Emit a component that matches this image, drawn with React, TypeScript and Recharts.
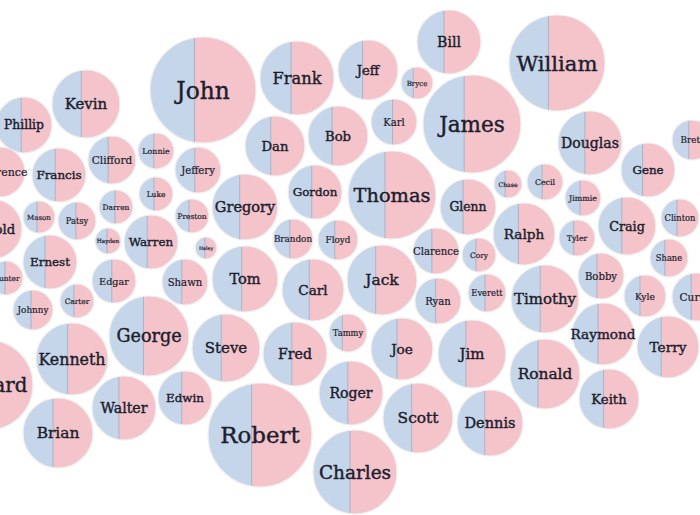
import React from 'react'
import { ScatterChart, Scatter, XAxis, YAxis, ZAxis } from 'recharts'

const names = [
  'Kevin', 'Phillip', 'Clifford', 'Lonnie', 'Francis', 'Lawrence', 'Harold', 'Mason', 'Patsy', 'Darren',
  'Luke', 'Hayden', 'Warren', 'Ernest', 'Hunter', 'Edgar', 'Carter', 'Johnny', 'George', 'Kenneth',
  'Richard', 'Brian', 'Walter', 'Edwin', 'Robert', 'Steve', 'Fred', 'Tom', 'Gregory', 'Preston',
  'Haley', 'Jeffery', 'Shawn', 'Gordon', 'Brandon', 'Floyd', 'Carl', 'Tammy', 'Roger', 'Charles',
  'Scott', 'Dennis', 'Joe', 'Jim', 'Jack', 'Thomas', 'Glenn', 'Chase', 'Clarence', 'Cory',
  'Ryan', 'Everett', 'Ralph', 'Timothy', 'Cecil', 'Jimmie', 'Tyler', 'Craig', 'Clinton', 'Shane',
  'Bobby', 'Kyle', 'Curtis', 'Raymond', 'Terry', 'Ronald', 'Keith', 'Gene', 'Brett', 'Douglas',
  'William', 'James', 'Bill', 'Jeff', 'Bryce', 'Karl', 'Bob', 'Dan', 'Frank', 'John',
]

// bubble centres (layout units) and radius
const xs = [
  86, 24, 112, 156, 59, 0, -8, 39, 77, 116,
  156, 108, 151, 50, 6, 114, 77, 33, 149, 72,
  -12, 58, 124, 185, 260, 226, 295, 245, 245, 192,
  206, 198, 185, 315, 293, 338, 313, 348, 351, 355,
  418, 490, 402, 472, 382, 392, 468, 508, 436, 479,
  438, 487, 524, 545, 545, 583, 577, 627, 680, 669,
  601, 645, 696, 603, 668, 545, 609, 648, 692, 590,
  557, 472, 449, 368, 417, 394, 338, 275, 297, 203,
]
const ys = [
  104, 125, 160, 151, 175, 172, 229, 217, 221, 207,
  194, 241, 242, 262, 278, 281, 301, 310, 336, 359,
  385, 433, 408, 398, 435, 348, 354, 279, 207, 216,
  248, 170, 282, 192, 239, 240, 290, 333, 393, 472,
  418, 423, 349, 354, 280, 195, 207, 184, 251, 255,
  301, 293, 234, 299, 182, 198, 238, 226, 218, 258,
  276, 296, 297, 334, 347, 374, 399, 170, 140, 143,
  63, 124, 42, 70, 83, 122, 136, 146, 78, 90,
]
const radii = [
  34, 28, 24, 18, 27, 25, 30, 16, 19, 17,
  17, 13, 27, 27, 17, 22, 17, 20, 40, 36,
  45, 35, 32, 27, 52, 34, 32, 33, 33, 17,
  11, 23, 23, 27, 20, 20, 31, 19, 32, 42,
  35, 33, 31, 34, 35, 44, 28, 14, 23, 17,
  23, 19, 31, 34, 18, 18, 18, 29, 19, 19,
  23, 21, 24, 31, 31, 35, 30, 27, 20, 32,
  48, 49, 32, 30, 16, 23, 30, 30, 37, 53,
]
// share of the blue (left) part
const blueShares = [
  0.43, 0.45, 0.42, 0.44, 0.43, 0.45, 0.45, 0.44, 0.47, 0.47,
  0.44, 0.46, 0.43, 0.41, 0.47, 0.45, 0.41, 0.45, 0.43, 0.44,
  0.45, 0.43, 0.42, 0.44, 0.42, 0.43, 0.45, 0.45, 0.42, 0.41,
  0.45, 0.43, 0.43, 0.44, 0.42, 0.42, 0.44, 0.35, 0.45, 0.44,
  0.41, 0.42, 0.42, 0.41, 0.41, 0.42, 0.41, 0.4, 0.41, 0.41,
  0.45, 0.45, 0.41, 0.43, 0.42, 0.42, 0.41, 0.41, 0.42, 0.39,
  0.41, 0.38, 0.4, 0.42, 0.39, 0.4, 0.41, 0.4, 0.42, 0.42,
  0.41, 0.42, 0.42, 0.41, 0.38, 0.47, 0.4, 0.43, 0.42, 0.42,
]

const data = names.map((name, i) => ({
  name,
  x: xs[i],
  y: ys[i],
  r: radii[i],
  z: radii[i] * radii[i],
  share: blueShares[i],
}))

const BLUE = '#c6d6ea'
const PINK = '#f5c4ca'
const INK = '#1b202d'

const Bubble = (props: any) => {
  const { cx, cy, width, payload } = props
  if (cx == null || cy == null) return null
  const r = width ? width / 2 : payload.r
  const sx = cx - r + 2 * r * payload.share
  const dy = Math.sqrt(Math.max(r * r - (sx - cx) * (sx - cx), 0))
  const big = sx > cx ? 1 : 0
  return (
    <g>
      <path d={`M${sx},${cy - dy} A${r},${r} 0 ${big} 0 ${sx},${cy + dy} Z`} fill={BLUE} />
      <path d={`M${sx},${cy - dy} A${r},${r} 0 ${1 - big} 1 ${sx},${cy + dy} Z`} fill={PINK} />
      <line x1={sx} y1={cy - dy} x2={sx} y2={cy + dy} stroke="#a4b3cb" strokeWidth={1} />
      <circle cx={cx} cy={cy} r={r} fill="none" stroke="#f1eef0" strokeWidth={1.2} />
      <text
        x={cx}
        y={cy}
        textAnchor="middle"
        dominantBaseline="central"
        fontFamily="'DejaVu Serif', serif"
        fontSize={r * 0.44}
        fill={INK}
        stroke={INK}
        strokeWidth={r > 25 ? 0.4 : 0.2}
      >
        {payload.name}
      </text>
    </g>
  )
}

export default function App() {
  return (
    <div style={{ position: 'absolute', left: 0, top: 0, background: '#fff' }}>
      <ScatterChart width={700} height={515} margin={{ top: 0, right: 0, bottom: 0, left: 0 }}>
        <XAxis type="number" dataKey="x" domain={[0, 700]} allowDataOverflow hide />
        <YAxis type="number" dataKey="y" domain={[0, 515]} allowDataOverflow reversed hide />
        <ZAxis type="number" dataKey="z" domain={[0, 3000]} range={[0, 3000 * Math.PI]} />
        <Scatter data={data} shape={Bubble} isAnimationActive={false} />
      </ScatterChart>
    </div>
  )
}
